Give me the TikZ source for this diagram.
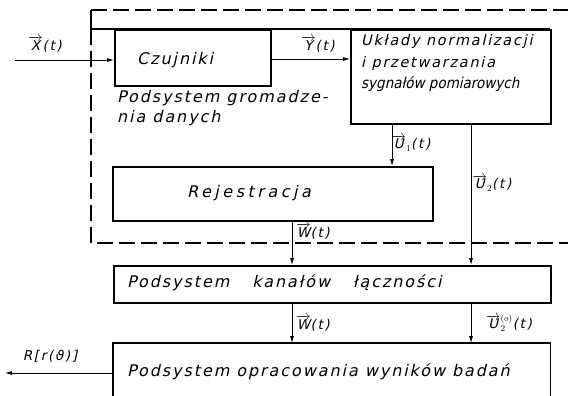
\documentclass[tikz,border=0pt]{standalone}
\usepackage{fontspec}
\usetikzlibrary{arrows.meta}
\newfontfamily\hand[LetterSpace=12,FakeSlant=0.22]{DejaVu Sans}
\newfontfamily\handwide[LetterSpace=22,FakeSlant=0.22]{DejaVu Sans}
\newfontfamily\handtight[LetterSpace=0,FakeSlant=0.22]{DejaVu Sans Condensed}
\newcommand{\vecl}[1]{$\overrightarrow{\mbox{#1}}$}
\begin{document}
\begin{tikzpicture}[x=1pt,y=-1pt,
  box/.style={draw,line width=1.6pt,anchor=north west,inner sep=0pt},
  txt/.style={font=\hand\fontsize{16}{20}\selectfont,inner sep=0pt,anchor=west},
  lab/.style={font=\hand\fontsize{13.5}{15}\selectfont,inner sep=0pt},
  sig/.style={line width=0.8pt,-{Latex[length=7pt,width=4pt]}},
  frame/.style={line width=1.2pt,dash pattern=on 16pt off 6pt}]
\useasboundingbox (0,0) rectangle (568,396);

% dashed boundary of the data acquisition subsystem
\draw[frame] (91,29) -- (91,243) -- (568,243);
\draw[frame] (91,10) -- (568,10);
\draw[line width=1.2pt] (91,10) -- (91,29) -- (550,29);

% blocks
\node[box,minimum width=156pt,minimum height=56pt] (czu) at (114,29) {};
\node[txt] (czut) at (137,60) {Czujniki};

\node[box,minimum width=200pt,minimum height=94pt] (ukl) at (350,29) {};
\node[txt,anchor=north west,align=left,font=\hand\fontsize{14.5}{22}\selectfont] (uklt) at (361,34)
  {Układy normalizacji\\i przetwarzania\\[-1pt]{\handtight\fontsize{15}{16}\selectfont sygnałów pomiarowych}};

\node[txt,anchor=north west,align=left] (gro) at (117,90) {Podsystem gromadze-\\nia danych};

\node[box,minimum width=320pt,minimum height=54pt] (rej) at (112,166) {};
\node[txt,font=\handwide\fontsize{16}{20}\selectfont] (rejt) at (187,193) {Rejestracja};

\node[box,minimum width=437pt,minimum height=37pt] (kan) at (113,265) {};
\node[txt] (kant) at (127,283) {Podsystem\hspace{16pt} kanałów\hspace{16pt} łączności};

\node[anchor=north west,minimum width=437pt,minimum height=53pt,inner sep=0pt] (opr) at (113,343) {};
\draw[line width=1.6pt] (opr.south west) -- (opr.north west) -- (opr.north east) -- (opr.south east);
\node[txt] (oprt) at (127,372) {Podsystem opracowania wyników badań};

% signals
\coordinate (xin) at (15,60);
\draw[sig] (xin) -- (xin -| czu.west);
\node[lab] (xl) at (45,44) {\vecl{X}(t)};

\draw[sig] (czu.east |- 0,59) -- (ukl.west |- 0,59);
\node[lab] (yl) at (318,44) {\vecl{Y}(t)};

\draw[sig] (ukl.south -| 392,0) -- (rej.north -| 392,0);
\node[lab] (u1) at (411,143) {\vecl{U}$_1$(t)};

\draw[sig] (ukl.south -| 471,0) -- (kan.north -| 471,0);
\node[lab] (u2) at (492,183) {\vecl{U}$_2$(t)};

\draw[sig] (rej.south -| 292,0) -- (kan.north -| 292,0);
\node[lab] (w1) at (313,231) {\vecl{W}(t)};

\draw[sig] (kan.south -| 292,0) -- (opr.north -| 292,0);
\node[lab] (w2) at (313,323) {\vecl{W}(t)};

\draw[sig] (kan.south -| 471,0) -- (opr.north -| 471,0);
\node[lab] (u2o) at (509,323) {\vecl{U}$_2^{(o)}$(t)};

\coordinate (rout) at (5,373);
\draw[sig] (opr.west |- rout) -- (rout);
\node[lab] (rl) at (50,356) {R[r(ϑ)]};
\end{tikzpicture}
\end{document}
